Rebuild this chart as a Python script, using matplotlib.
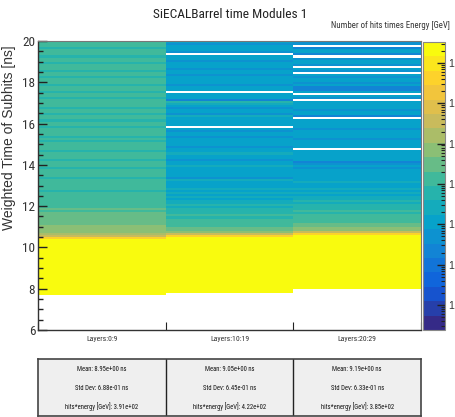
import os
import numpy as np
import matplotlib
matplotlib.use("Agg")
import matplotlib.pyplot as plt
from matplotlib import font_manager
from matplotlib.font_manager import FontProperties
from matplotlib.colors import LinearSegmentedColormap, ListedColormap, LogNorm
from matplotlib.ticker import (MultipleLocator, FixedLocator, LogLocator,
                               NullFormatter, FuncFormatter)

# ---------------------------------------------------------------- data
layer_labels = ["Layers:0:9", "Layers:10:19", "Layers:20:29"]
bin_width_ns = 0.1
time_lo_ns, time_hi_ns = 6.0, 20.0

# first filled time bin (ns) of each layer group
first_bin_ns = [7.7, 7.8, 8.0]

# hits*energy [GeV] per 0.1 ns bin in the prompt peak
core_l0_9 = [9, 11, 13, 15, 16, 17, 19, 19, 20, 21, 21, 20, 19, 18,
             17, 17, 16, 15, 14, 13, 12, 11, 10, 9, 8, 6, 5]
core_l10_19 = [10, 12, 14, 16, 17, 18, 20, 21, 22, 23, 23, 22, 21, 19,
               18, 18, 17, 16, 15, 14, 13, 12, 11, 10, 9, 7, 4]
core_l20_29 = [9, 12, 14, 16, 17, 19, 21, 22, 22, 22, 21, 19, 18, 18,
               17, 16, 15, 14, 13, 12, 11, 10, 9, 8, 6, 4]

# log10(hits*energy [GeV]) per 0.1 ns bin in the late tail (None = empty bin)
tail_l0_9_log10 = [
    -0.5, -1.3, -1.9, -2.1, -2.2, -2.3,
    -2.3, -2.4, -2.4, -2.5, -2.5, -2.6, -2.6, -2.7, -2.6, -2.7,
    -2.8, -2.7, -3.0, -2.8, -2.8, -2.9, -2.8, -3.1, -2.9, -2.8,
    -3.0, -2.9, -2.8, -3.2, -2.9, -3.0, -2.8, -2.9, -3.1, -2.9,
    -2.9, -3.0, -3.3, -2.9, -2.8, -3.0, -3.2, -2.9, -3.0, -2.8,
    -3.0, -3.1, -2.9, -3.3, -3.0, -2.9, -2.8, -3.0, -3.4, -3.0,
    -2.9, -3.2, -3.0, -2.9, -3.1, -2.8, -3.0, -3.3, -2.9, -3.0,
    -3.0, -2.9, -3.2, -3.0, -2.8, -3.1, -2.9, -3.0, -3.3, -2.9,
    -3.0, -2.8, -3.1, -2.9, -3.0, -3.2, -2.9, -3.0, -2.8, -3.1,
    -2.9, -3.0, -3.2, -2.9, -2.8, -3.0, -3.1, -2.9, -2.8, -2.7,
]
tail_l10_19_log10 = [
    -0.5, -1.6, -2.2, -2.4, -2.6,
    -2.7, -2.8, -2.9, -3.0, -3.1, -3.0, -3.2, -3.4, -3.3, -3.6,
    -3.3, -3.7, -3.5, -3.9, -3.6, -3.8, -3.5, -4.0, -3.7, -3.9,
    -3.8, -4.0, -3.7, -4.2, -3.9, -3.8, -4.1, -3.9, -4.0, -3.7,
    -4.0, -3.8, -4.3, -3.9, -4.0, -3.7, -4.1, -3.9, -4.4, -4.0,
    -3.8, -4.1, -3.9, -4.3, -4.0, -3.8, -4.2, -3.9, None, -4.0,
    -4.1, -3.9, -4.0, -3.7, -4.2, -4.0, -3.9, -4.4, -4.0, -3.6,
    -3.3, -4.6, -4.0, -4.0, -3.9, None, -4.0, -3.8, -4.2, -4.0,
    -3.9, -4.1, -4.0, -4.4, -3.8, -4.0, -4.2, -3.9, -4.1, -4.0,
    -4.2, -3.9, -4.0, None, -4.3, -4.1, -3.8, -4.0, -4.2, -4.0,
]
tail_l20_29_log10 = [
    -0.5, -1.4, -2.0, -2.3,
    -2.5, -2.6, -2.7, -2.9, -2.8, -3.0, -3.1, -3.0, -3.3, -3.2,
    -3.4, -3.5, -3.3, -3.7, -3.6, -3.8, -3.5, -3.9, -3.7, -3.8,
    -3.9, -3.7, -4.0, -3.8, -4.1, -3.9, -3.8, -4.0, -4.2, -3.9,
    -4.4, -4.5, -4.0, -3.9, -4.1, -3.8, -4.0, None, -4.1, -3.9,
    -4.0, -3.8, -4.2, -3.9, -4.1, -4.0, -3.8, -4.3, -4.0, -3.9,
    -4.1, -4.0, None, -4.7, -4.0, -3.9, -4.2, -4.0, -4.1, -3.9,
    -4.0, None, -4.2, -3.9, None, -4.1, -4.6, -4.8, -4.0, -4.2,
    -4.1, -3.9, -4.3, -4.0, None, -4.2, -4.0, None, -4.4, -4.1,
    -4.0, -4.3, None, -4.7, -4.1, -4.0, -4.5, None, -4.2, -4.4,
]

stat_mean = ["8.95e+00", "9.05e+00", "9.19e+00"]
stat_std = ["6.88e-01", "6.45e-01", "6.33e-01"]
stat_sum = ["3.91e+02", "4.22e+02", "3.85e+02"]

z_log_range = (-6.62, 0.52)

# ---------------------------------------------------------------- fonts
def condensed_font_file():
    prefs = ["liberationsansnarrow-regular", "robotocondensed-regular",
             "notosans-condensed.", "notosans-condensedregular",
             "opensans-condensedregular", "opensans_condensed-regular",
             "dejavusanscondensed."]
    files = sorted({f.fname for f in font_manager.fontManager.ttflist})
    for p in prefs:
        for fn in files:
            if os.path.basename(fn).lower().startswith(p):
                return fn
    return None

narrow_file = condensed_font_file()

def narrow(size):
    if narrow_file:
        return FontProperties(fname=narrow_file, size=size)
    return FontProperties(family="Liberation Sans", size=size * 0.8)

plt.rcParams["font.family"] = ["Liberation Sans", "DejaVu Sans"]

# ---------------------------------------------------------------- histogram
n_bins = int(round((time_hi_ns - time_lo_ns) / bin_width_ns))
y_edges = time_lo_ns + bin_width_ns * np.arange(n_bins + 1)
x_edges = np.arange(len(layer_labels) + 1)

cores = [core_l0_9, core_l10_19, core_l20_29]
tails = [tail_l0_9_log10, tail_l10_19_log10, tail_l20_29_log10]
content = np.zeros((n_bins, len(layer_labels)))
for j, (t0, core, tail) in enumerate(zip(first_bin_ns, cores, tails)):
    i0 = int(round((t0 - time_lo_ns) / bin_width_ns))
    content[i0:i0 + len(core), j] = core
    k0 = i0 + len(core)
    for k, v in enumerate(tail):
        content[k0 + k, j] = 0.0 if v is None else 10.0 ** v

# ROOT "bird" palette, 20 contour levels
stops = [0.0, 0.125, 0.25, 0.375, 0.5, 0.625, 0.75, 0.875, 1.0]
red = [0.2082, 0.0592, 0.0780, 0.0232, 0.1802, 0.5301, 0.8186, 0.9956, 0.9764]
green = [0.1664, 0.3599, 0.5041, 0.6419, 0.7178, 0.7492, 0.7328, 0.7862, 0.9832]
blue = [0.5293, 0.8684, 0.8385, 0.7914, 0.6425, 0.4662, 0.3499, 0.1968, 0.0539]
bird = LinearSegmentedColormap.from_list("bird", list(zip(stops, zip(red, green, blue))))
levels = ListedColormap(bird(np.linspace(0, 1, 20)))
levels.set_bad("white")
levels.set_over(bird(1.0))
norm = LogNorm(vmin=10 ** z_log_range[0], vmax=10 ** z_log_range[1], clip=False)

W, H = 455, 417
fig = plt.figure(figsize=(W / 100, H / 100), dpi=100)

def frac(x0, y0, x1, y1):
    return [x0 / W, 1 - y1 / H, (x1 - x0) / W, (y1 - y0) / H]

ax = fig.add_axes(frac(38, 41, 421, 330))
mesh = ax.pcolormesh(x_edges, y_edges, np.ma.masked_less_equal(content, 0.0),
                     cmap=levels, norm=norm, shading="flat")
ax.set_xlim(0, 3)
ax.set_ylim(6, 20)

y_major = np.arange(6, 21, 2)
ax.yaxis.set_major_locator(FixedLocator(y_major))
ax.yaxis.set_minor_locator(MultipleLocator(0.5))
ax.set_yticklabels([f"{v:d}" for v in y_major], fontproperties=narrow(9.5),
                   color="#333333")
ax.tick_params(axis="y", which="major", direction="in", length=6.5, width=1.0,
               color="#222222", pad=2)
ax.tick_params(axis="y", which="minor", direction="in", length=3.6, width=1.0,
               color="#222222")
ax.tick_params(axis="y", right=False)

ax.xaxis.set_major_locator(FixedLocator([0, 1, 2, 3]))
ax.xaxis.set_major_formatter(NullFormatter())
ax.xaxis.set_minor_locator(FixedLocator([0.5, 1.5, 2.5]))
ax.set_xticklabels(layer_labels, minor=True, fontproperties=narrow(5.6),
                   color="#333333")
ax.tick_params(axis="x", which="major", direction="in", length=6, width=0.8,
               color="#222222")
ax.tick_params(axis="x", which="minor", length=0, pad=4)
for side in ("left", "bottom"):
    ax.spines[side].set_color("#333333")
    ax.spines[side].set_linewidth(1.0)
for side in ("top", "right"):
    ax.spines[side].set_color("#777777")
    ax.spines[side].set_linewidth(0.8)

fig.text(9 / W, 1 - 45 / H, "Weighted Time of Subhits [ns]", rotation=90,
         ha="center", va="top", fontsize=10, color="#333333",
         family=["Liberation Sans", "DejaVu Sans"])
fig.text(230 / W, 1 - 15 / H, "SiECALBarrel time Modules 1", ha="center",
         va="center", fontproperties=narrow(9.6), color="#222222")

# palette axis
cax = fig.add_axes(frac(423, 42, 445, 330))
cb = fig.colorbar(mesh, cax=cax)
cb.outline.set_edgecolor("#888888")
cb.outline.set_linewidth(0.8)
cax.yaxis.set_major_locator(LogLocator(base=10, numticks=20))
cax.yaxis.set_minor_locator(LogLocator(base=10, subs=np.arange(2, 10), numticks=20))
cax.yaxis.set_major_formatter(FuncFormatter(lambda v, _: "1"))
cax.yaxis.set_minor_formatter(NullFormatter())
cax.tick_params(which="major", direction="in", length=6, width=1.0,
                color="#222222", labelsize=7.5, pad=2, labelcolor="#333333")
cax.tick_params(which="minor", direction="in", length=3, width=0.8, color="#222222")
fig.text(450 / W, 1 - 25 / H, "Number of hits times Energy [GeV]", ha="right",
         va="center", fontproperties=narrow(6.3), color="#333333")

# statistics table
sax = fig.add_axes(frac(38, 359, 421, 416))
sax.set_xlim(0, 3)
sax.set_ylim(0, 1)
sax.set_facecolor("#efefef")
sax.set_xticks([])
sax.set_yticks([])
for s in sax.spines.values():
    s.set_color("#444444")
    s.set_linewidth(1.2)
for xb in (1, 2):
    sax.axvline(xb, color="#222222", lw=1.0)
for j in range(3):
    xc = j + 0.5
    rows = [(0.82, f"Mean: {stat_mean[j]} ns"),
            (0.48, f"Std Dev: {stat_std[j]} ns"),
            (0.17, f"hits*energy [GeV]: {stat_sum[j]}")]
    for yy, s in rows:
        sax.text(xc, yy, s, ha="center", va="center",
                 fontproperties=narrow(4.8), color="#111111")

fig.savefig("out.png", dpi=100)
